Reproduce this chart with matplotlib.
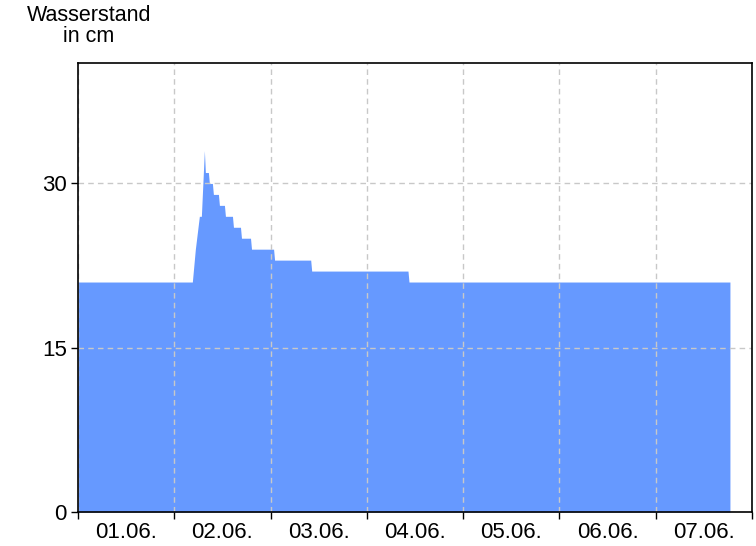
import pandas as pd
import matplotlib
matplotlib.use("Agg")
import matplotlib.pyplot as plt
import matplotlib.dates as mdates

plt.rcParams['font.family'] = ['Liberation Sans', 'DejaVu Sans']

# Wasserstand (cm), 15-min Messwerte, nur die Knickpunkte
zeiten = ["2024-06-01 00:00", "2024-06-02 04:30", "2024-06-02 05:15", "2024-06-02 06:15",
          "2024-06-02 06:45", "2024-06-02 07:30", "2024-06-02 07:45", "2024-06-02 08:30",
          "2024-06-02 08:45", "2024-06-02 09:30", "2024-06-02 09:45", "2024-06-02 11:00",
          "2024-06-02 11:15", "2024-06-02 12:30", "2024-06-02 12:45", "2024-06-02 14:30",
          "2024-06-02 14:45", "2024-06-02 16:30", "2024-06-02 16:45", "2024-06-02 19:00",
          "2024-06-02 19:15", "2024-06-03 00:45", "2024-06-03 01:00", "2024-06-03 10:00",
          "2024-06-03 10:15", "2024-06-04 10:15", "2024-06-04 10:30", "2024-06-07 18:30"]
werte = [21, 21, 24, 27,
         27, 33, 31, 31,
         30, 30, 29, 29,
         28, 28, 27, 27,
         26, 26, 25, 25,
         24, 24, 23, 23,
         22, 22, 21, 21]

tage = ["01.06.", "02.06.", "03.06.", "04.06.", "05.06.", "06.06.", "07.06."]
y_ticks = [0, 15, 30]

t = pd.to_datetime(zeiten)

fig = plt.figure(figsize=(7.56, 5.46), dpi=100)
ax = fig.add_axes([78/756, 1-512/546, 674/756, 449/546])

ax.fill_between(t, werte, 0, color="#6699ff", linewidth=0, zorder=2)

start = pd.Timestamp("2024-06-01")
ax.set_xlim(start, start + pd.Timedelta(days=7))
ax.set_ylim(0, 41)

ax.set_yticks(y_ticks)
ax.set_yticklabels([str(v) for v in y_ticks], fontsize=16)

ax.xaxis.set_major_locator(mdates.DayLocator())
ax.xaxis.set_major_formatter(plt.NullFormatter())
ax.xaxis.set_minor_locator(mdates.HourLocator(byhour=[12]))
ax.xaxis.set_minor_formatter(plt.FixedFormatter(tage))
ax.tick_params(axis='x', which='minor', length=0, labelsize=16, pad=7)
ax.tick_params(axis='both', which='major', length=5, width=1, direction='out')
ax.tick_params(axis='y', pad=3)

ax.grid(True, which='major', linestyle=(0, (4, 3)), color="#c8c8c8", linewidth=1, zorder=3)
ax.set_axisbelow(False)
for s in ax.spines.values():
    s.set_linewidth(1.2)
    s.set_zorder(4)

fig.text(89/756, 1-5/546, "Wasserstand\nin cm", ha='center', va='top',
         fontsize=15.5, linespacing=1.0)

fig.savefig("out.png", dpi=100)
